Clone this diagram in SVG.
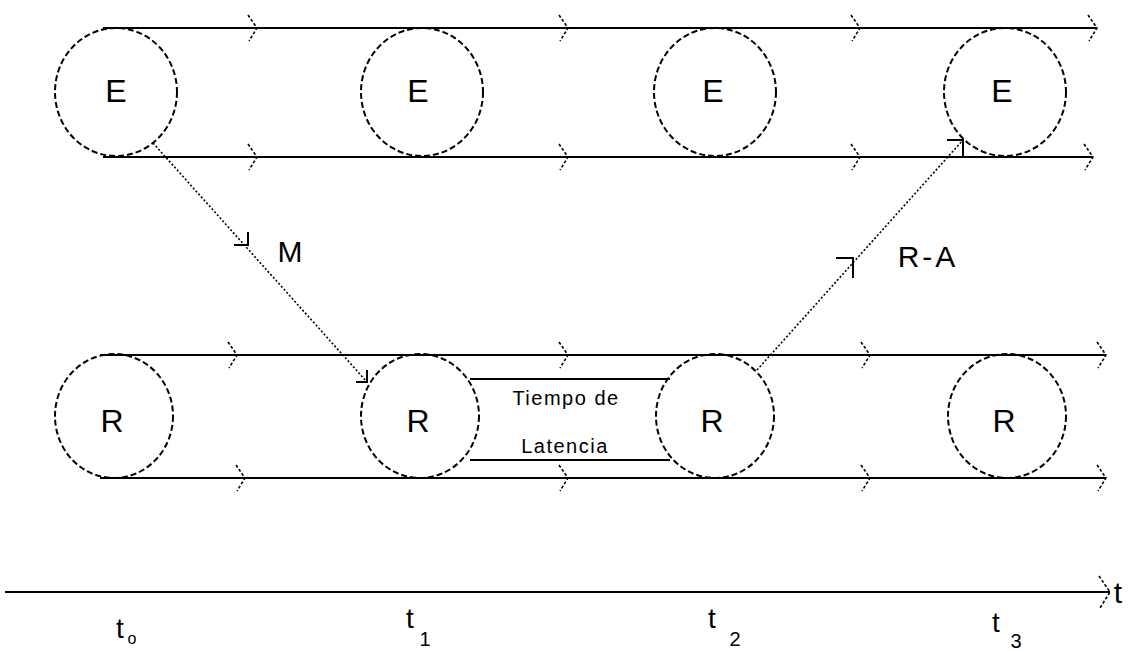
<svg xmlns="http://www.w3.org/2000/svg" width="1130" height="651" viewBox="0 0 1130 651">
<style>
.band{stroke:#000;stroke-width:2.2;fill:none}
.chev{stroke:#000;stroke-width:1.6;fill:none;stroke-dasharray:3 2}
.node{stroke:#000;stroke-width:2;fill:none;stroke-dasharray:6 3}
.msg{stroke:#000;stroke-width:1.6;fill:none;stroke-dasharray:2 2}
.head{stroke:#000;stroke-width:2;fill:none}
.lbl{font-family:"Liberation Sans",Arial,sans-serif;fill:#000;text-anchor:middle}
.big{font-size:32px}
.small{font-size:20px;letter-spacing:1.5px}
</style>
<rect width="1130" height="651" fill="#fff"/>
<g id="connectors">
<line class="band" x1="103" y1="28" x2="1097" y2="28"/>
<line class="band" x1="103" y1="157" x2="1093" y2="157"/>
<line class="band" x1="100" y1="355" x2="1106" y2="355"/>
<line class="band" x1="100" y1="478" x2="1106" y2="478"/>
<line class="band" x1="470" y1="379" x2="670" y2="379"/>
<line class="band" x1="470" y1="460" x2="670" y2="460"/>
<path class="chev" d="M248,15 L257,28 L249,41"/>
<path class="chev" d="M559,15 L568,28 L560,41"/>
<path class="chev" d="M851,15 L860,28 L852,41"/>
<path class="chev" d="M1088,15 L1097,28 L1089,41"/>
<path class="chev" d="M248,144 L257,157 L249,170"/>
<path class="chev" d="M559,144 L568,157 L560,170"/>
<path class="chev" d="M851,144 L860,157 L852,170"/>
<path class="chev" d="M1084,144 L1093,157 L1085,170"/>
<path class="chev" d="M228,342 L237,355 L229,368"/>
<path class="chev" d="M559,342 L568,355 L560,368"/>
<path class="chev" d="M861,342 L870,355 L862,368"/>
<path class="chev" d="M1097,342 L1106,355 L1098,368"/>
<path class="chev" d="M236,465 L245,478 L237,491"/>
<path class="chev" d="M559,465 L568,478 L560,491"/>
<path class="chev" d="M861,465 L870,478 L862,491"/>
<path class="chev" d="M1097,465 L1106,478 L1098,491"/>
<line class="msg" x1="153" y1="143" x2="367" y2="382"/>
<path class="head" d="M234,245 L248,245 L248,232"/>
<path class="head" d="M356,382 L367,382 L367,370"/>
<line class="msg" x1="757" y1="370" x2="963" y2="140"/>
<path class="head" d="M836,258 L853,258 L853,278"/>
<path class="head" d="M947,140 L963,140 L963,157"/>
<line class="band" x1="5" y1="592" x2="1110" y2="592"/>
<path class="chev" d="M1099,576 L1110,592 L1100,608"/>
</g>
<g id="E1"><ellipse class="node" cx="116" cy="92" rx="61" ry="64"/><text class="lbl big" x="116" y="102">E</text></g>
<g id="E2"><ellipse class="node" cx="422" cy="92" rx="61" ry="64"/><text class="lbl big" x="418" y="102">E</text></g>
<g id="E3"><ellipse class="node" cx="715" cy="92" rx="61" ry="64"/><text class="lbl big" x="713" y="102">E</text></g>
<g id="E4"><ellipse class="node" cx="1005" cy="92" rx="61" ry="64"/><text class="lbl big" x="1002" y="102">E</text></g>
<g id="R1"><ellipse class="node" cx="114" cy="416" rx="59" ry="62"/><text class="lbl big" x="112" y="432">R</text></g>
<g id="R2"><ellipse class="node" cx="420" cy="416" rx="59" ry="62"/><text class="lbl big" x="418" y="432">R</text></g>
<g id="R3"><ellipse class="node" cx="715" cy="416" rx="59" ry="62"/><text class="lbl big" x="712" y="432">R</text></g>
<g id="R4"><ellipse class="node" cx="1007" cy="416" rx="59" ry="62"/><text class="lbl big" x="1004" y="432">R</text></g>
<g id="latency"><text class="lbl small" x="566" y="405">Tiempo de</text><text class="lbl small" x="565" y="453">Latencia</text></g>
<g id="labels">
<text class="lbl" style="font-size:30px" x="290" y="262">M</text>
<text class="lbl" style="font-size:30px;letter-spacing:3px" x="928" y="267">R-A</text>
<text class="lbl" style="font-size:30px" x="1118" y="603">t</text>
<text class="lbl" style="font-size:28px" x="120" y="638">t</text><text class="lbl" style="font-size:16px" x="132" y="644">o</text>
<text class="lbl" style="font-size:28px" x="410" y="628">t</text><text class="lbl" style="font-size:20px" x="425" y="646">1</text>
<text class="lbl" style="font-size:28px" x="712" y="628">t</text><text class="lbl" style="font-size:20px" x="735" y="646">2</text>
<text class="lbl" style="font-size:28px" x="996" y="632">t</text><text class="lbl" style="font-size:20px" x="1016" y="648">3</text>
</g>
</svg>
